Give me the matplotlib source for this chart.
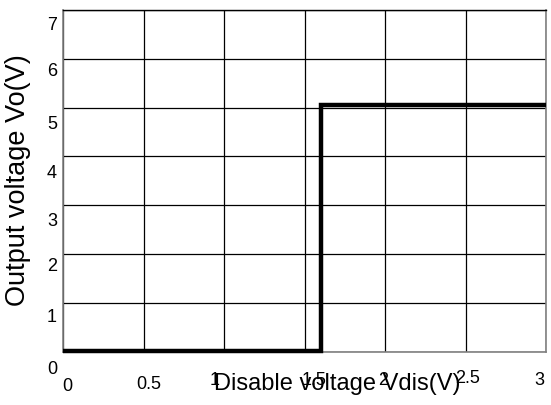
import matplotlib
matplotlib.use('Agg')
import matplotlib.pyplot as plt
from matplotlib.transforms import ScaledTranslation, blended_transform_factory

plt.rcParams['font.family'] = ['Liberation Sans', 'DejaVu Sans']

# Data
x_vals = [0.0, 1.6, 1.6, 3.0]
y_vals = [0.02, 0.02, 5.05, 5.05]
x_ticks = [0, 0.5, 1, 1.5, 2, 2.5, 3]
x_tick_labels = ['0', '0.5', '1', '1.5', '2', '2.5', '3']
y_ticks = [0, 1, 2, 3, 4, 5, 6, 7]
y_tick_labels = ['0', '1', '2', '3', '4', '5', '6', '7']
x_label = 'Disable voltage Vdis(V)'
y_label = 'Output voltage Vo(V)'

# label offsets in pixels (style only)
x_lab_dx = [4.5, 5.6, -9, 10, -1.5, 2, -6.7]
x_lab_dy = [34.5, 32.5, 28.5, 28.5, 28.5, 26.5, 28.5]
y_lab_dy = [17.5, 14, 12, 15, 16, 15.5, 12, 14.5]

W, H = 551, 406
fig = plt.figure(figsize=(W / 100, H / 100), dpi=100)
ax = fig.add_axes([63 / W, 1 - 352.5 / H, (546 - 63) / W, (352.5 - 11) / H])
ax.set_xlim(0, 3)
ax.set_ylim(0, 7)
ax.set_xticks(x_ticks)
ax.set_yticks(y_ticks)
ax.set_xticklabels([])
ax.set_yticklabels([])
ax.tick_params(length=0)
ax.grid(True, color='black', lw=0.9)
ax.set_axisbelow(True)
for s in ['left', 'right', 'bottom']:
    ax.spines[s].set_color('#808080')
    ax.spines[s].set_linewidth(1.2)
ax.spines['top'].set_color('black')
ax.spines['top'].set_linewidth(1.0)

ax.plot(x_vals, y_vals, color='black', lw=3.2, solid_joinstyle='miter',
        solid_capstyle='butt', clip_on=False, zorder=5)

px = 1 / 100
for t, lab, dx, dy in zip(x_ticks, x_tick_labels, x_lab_dx, x_lab_dy):
    tr = ax.transData + ScaledTranslation(dx * px, -dy * px, fig.dpi_scale_trans)
    ax.text(t, 0, lab, transform=tr, ha='center', va='center', fontsize=13,
            clip_on=False)

btr = blended_transform_factory(ax.transAxes, ax.transData)
for t, lab, dy in zip(y_ticks, y_tick_labels, y_lab_dy):
    tr = btr + ScaledTranslation(-6 * px, -dy * px, fig.dpi_scale_trans)
    ax.text(0, t, lab, transform=tr, ha='right', va='center', fontsize=13,
            clip_on=False)

fig.text(337 / W, 1 - 384 / H, x_label, ha='center', va='center', fontsize=17)
fig.text(18 / W, 1 - 180 / H, y_label, ha='center', va='center', fontsize=19.5,
         rotation=90)

fig.savefig('out.png', dpi=100)
